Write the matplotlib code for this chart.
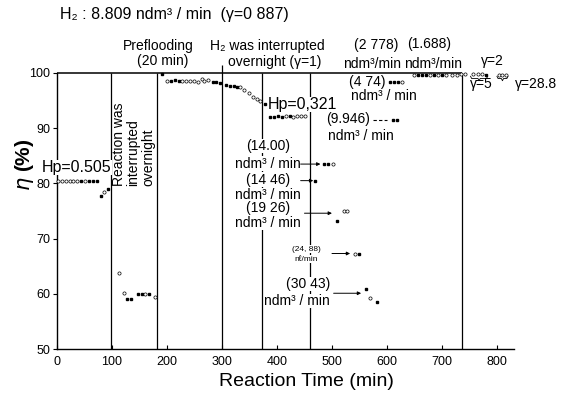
import matplotlib
matplotlib.use("Agg")
import matplotlib.pyplot as plt

plt.rcParams['font.family'] = ['Liberation Sans', 'DejaVu Sans']

# data: reaction time (min), eta (%), marker kind (f=filled, o=open)
hp505_t = [2, 9, 16, 23, 30, 37, 44, 51, 58, 65, 72, 80, 86, 92]
hp505_y = [80.5, 80.5, 80.5, 80.5, 80.5, 80.5, 80.5, 80.5, 80.5, 80.5, 80.5, 77.8, 78.4, 79.0]
hp505_k = "oooooofoffffof"

interr_t = [112, 122, 128, 135, 148, 154, 160, 167, 179]
interr_y = [63.7, 60.2, 59.1, 59.1, 60.0, 60.0, 60.0, 60.0, 59.4]
interr_k = "ooffffofo"

preflood_t = [191, 200, 207, 214, 221, 228, 235, 242, 249, 256, 263, 268, 275, 283, 290, 297,
              308, 315, 321, 327, 333, 340, 349, 356, 363, 370, 378]
preflood_y = [99.9, 98.6, 98.6, 98.7, 98.6, 98.6, 98.6, 98.5, 98.5, 98.4, 98.9, 98.6, 98.7, 98.4, 98.4, 98.2,
              97.9, 97.7, 97.7, 97.5, 97.4, 97.0, 96.3, 95.7, 95.3, 94.9, 94.3]
preflood_k = "fofffoooooooofffffffoooooof"

hp321_t = [388, 395, 402, 409, 416, 423, 430, 437, 444, 451]
hp321_y = [92.1, 92.1, 92.2, 92.1, 92.2, 92.2, 92.1, 92.2, 92.3, 92.3]
hp321_k = "ffffofoooo"

f1400_t = [485, 493, 501]
f1400_y = [83.5, 83.5, 83.5]
f1400_k = "ffo"

f1446_t = [470]
f1446_y = [80.5]
f1446_k = "f"

f1926_t = [510, 521, 527]
f1926_y = [73.1, 75.0, 75.0]
f1926_k = "foo"

f2488_t = [542, 550]
f2488_y = [67.3, 67.3]
f2488_k = "of"

f3043_t = [562, 570, 581]
f3043_y = [60.8, 59.2, 58.6]
f3043_k = "fof"

f474_t = [606, 613, 620, 627]
f474_y = [98.3, 98.3, 98.3, 98.3]
f474_k = "fffo"

f9946_t = [611, 619]
f9946_y = [91.5, 91.5]
f9946_k = "ff"

f1688_t = [650, 657, 664, 671, 679, 686, 692, 700, 708, 718, 728, 735, 742]
f1688_y = [99.6, 99.6, 99.6, 99.6, 99.6, 99.6, 99.6, 99.6, 99.6, 99.7, 99.7, 99.8, 99.8]
f1688_k = "offfofofooooo"

g5_t = [757, 765, 773, 780]
g5_y = [99.8, 99.9, 99.9, 99.7]
g5_k = "ooof"

g288_t = [803, 810, 817]
g288_y = [99.7, 99.7, 99.7]
g288_k = "ooo"

event_t = [99, 181, 300, 372, 460, 737]
xticks = [0, 100, 200, 300, 400, 500, 600, 700, 800]
yticks = [50, 60, 70, 80, 90, 100]

W, H = 569, 396
fig = plt.figure(figsize=(W / 100, H / 100), dpi=100)
ax = fig.add_axes([57 / W, 1 - 349 / H, 457 / W, 276 / H])


def draw(t, y, kinds):
    ft = [a for a, k in zip(t, kinds) if k == 'f']
    fy = [b for b, k in zip(y, kinds) if k == 'f']
    ot = [a for a, k in zip(t, kinds) if k == 'o']
    oy = [b for b, k in zip(y, kinds) if k == 'o']
    ax.plot(ft, fy, ls='none', marker='s', ms=1.8, color='black', clip_on=False, zorder=4)
    ax.plot(ot, oy, ls='none', marker='o', ms=2.3, mfc='white', mec='black', mew=0.5,
            clip_on=False, zorder=4)


for t, y, k in [(hp505_t, hp505_y, hp505_k), (interr_t, interr_y, interr_k),
                (preflood_t, preflood_y, preflood_k), (hp321_t, hp321_y, hp321_k),
                (f1400_t, f1400_y, f1400_k), (f1446_t, f1446_y, f1446_k),
                (f1926_t, f1926_y, f1926_k), (f2488_t, f2488_y, f2488_k),
                (f3043_t, f3043_y, f3043_k), (f474_t, f474_y, f474_k),
                (f9946_t, f9946_y, f9946_k), (f1688_t, f1688_y, f1688_k),
                (g5_t, g5_y, g5_k), (g288_t, g288_y, g288_k)]:
    draw(t, y, k)

# event lines
for t in event_t:
    top = 101.4 if t == 300 else 100
    ax.vlines(t, 50, top, color='black', lw=0.9, clip_on=False, zorder=2)
ax.hlines(100, 0, event_t[-1], color='black', lw=1.1, clip_on=False, zorder=2)

ax.set_xlim(0, 831)
ax.set_ylim(50, 100)
ax.set_xticks(xticks)
ax.set_yticks(yticks)
ax.tick_params(axis='x', direction='in', length=3, labelsize=9, pad=5)
ax.tick_params(axis='y', direction='out', length=3, labelsize=9, pad=2)
for s in ['top', 'right']:
    ax.spines[s].set_visible(False)
for s in ['left', 'bottom']:
    ax.spines[s].set_linewidth(1.0)

box = dict(fc='white', ec='none', pad=0.2)
fs = 10
unit = "ndm³ / min"

# labels inside the plot
ax.text(36, 82.9, "Hp=0.505", fontsize=11.5, ha='center', va='center', bbox=box, zorder=5)
ax.text(139, 79.6, "Reaction was\ninterrupted\novernight", rotation=90, fontsize=fs,
        ha='center', va='bottom', multialignment='left', linespacing=1.05)
ax.text(384, 94.3, "Hp=0,321", fontsize=11.5, ha='left', va='center', bbox=box, zorder=5)

ax.text(384, 86.8, "(14.00)", fontsize=fs, ha='center', va='center', bbox=box, zorder=5)
ax.text(384, 83.6, unit, fontsize=fs, ha='center', va='center', bbox=box, zorder=5)
ax.text(384, 80.7, "(14 46)", fontsize=fs, ha='center', va='center', bbox=box, zorder=5)
ax.text(384, 77.9, unit, fontsize=fs, ha='center', va='center', bbox=box, zorder=5)
ax.text(384, 75.6, "(19 26)", fontsize=fs, ha='center', va='center', bbox=box, zorder=5)
ax.text(384, 72.9, unit, fontsize=fs, ha='center', va='center', bbox=box, zorder=5)
ax.text(453, 68.1, "(24, 88)", fontsize=6, ha='center', va='center', bbox=box, zorder=5)
ax.text(453, 66.3, "nℓ/min", fontsize=6, ha='center', va='center', bbox=box, zorder=5)
ax.text(457, 61.8, "(30 43)", fontsize=fs, ha='center', va='center', bbox=box, zorder=5)
ax.text(436, 58.7, unit, fontsize=fs, ha='center', va='center', bbox=box, zorder=5)

ax.text(564, 98.4, "(4 74)", fontsize=fs, ha='center', va='center', bbox=box, zorder=5)
ax.text(594, 95.8, unit, fontsize=fs, ha='center', va='center', bbox=box, zorder=5)
ax.text(530, 91.6, "(9.946)", fontsize=fs, ha='center', va='center', bbox=box, zorder=5)
ax.text(552, 88.6, unit, fontsize=fs, ha='center', va='center', bbox=box, zorder=5)

arrow = dict(arrowstyle='-|>', lw=0.7, color='black', mutation_scale=5, shrinkA=0, shrinkB=0)
for x0, x1, yy in [(443, 479, 83.5), (443, 466, 80.5), (450, 500, 74.6),
                   (500, 533, 67.3), (503, 553, 60.1)]:
    ax.annotate("", xy=(x1, yy), xytext=(x0, yy), arrowprops=arrow, zorder=6)
ax.plot([575, 600], [91.5, 91.5], color='black', lw=0.8, ls=(0, (3, 2)))

# braces under the gamma groups
for a, b in [(752, 783), (800, 820)]:
    m = (a + b) / 2
    ax.plot([a, a + 2, m - 2, m, m + 2, b - 2, b], [99.4, 99.0, 99.0, 98.6, 99.0, 99.0, 99.4],
            color='black', lw=0.6, clip_on=False)


# text above the frame (figure pixel positions)
def ftext(x, y, s, **kw):
    fig.text(x / W, 1 - y / H, s, **kw)


ftext(60, 15, "H₂ : 8.809 ndm³ / min  (γ=0 887)", fontsize=11.5, ha='left', va='center')
ftext(158, 46, "Preflooding", fontsize=fs, ha='center', va='center')
ftext(163, 61, "(20 min)", fontsize=fs, ha='center', va='center')
ftext(210, 46, "H₂ was interrupted", fontsize=fs, ha='left', va='center')
ftext(228, 62, "overnight (γ=1)", fontsize=fs, ha='left', va='center')
ftext(376, 45, "(2 778)", fontsize=fs, ha='center', va='center')
ftext(429, 44, "(1.688)", fontsize=fs, ha='center', va='center')
ftext(372, 71, "ndm³/min", fontsize=fs, ha='center', va='bottom')
ftext(433, 71, "ndm³/min", fontsize=fs, ha='center', va='bottom')
ftext(481, 61, "γ=2", fontsize=fs, ha='left', va='center')
ftext(470, 84, "γ=5", fontsize=fs, ha='left', va='center')
ftext(515, 84, "γ=28.8", fontsize=fs, ha='left', va='center')

ftext(306, 382, "Reaction Time (min)", fontsize=14, ha='center', va='center')
ftext(24, 165, r"$\eta$ (%)", fontsize=15, ha='center', va='center', rotation=90,
      fontweight='bold')

fig.savefig("out.png", dpi=100)
